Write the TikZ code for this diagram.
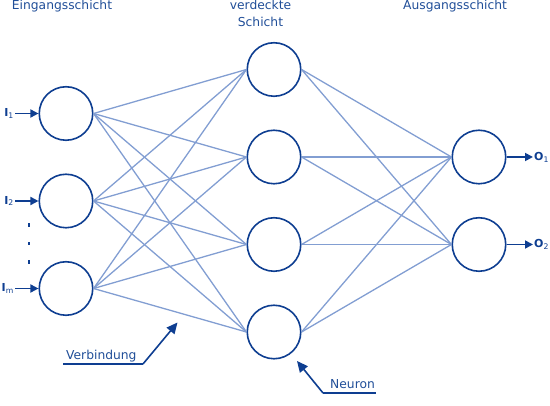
\documentclass[tikz,border=0pt]{standalone}
\usepackage{fontspec}
\setmainfont{DejaVu Sans}
\usetikzlibrary{arrows.meta}
\definecolor{dblue}{RGB}{14,62,145}
\definecolor{lblue}{RGB}{130,158,210}
\definecolor{tblue}{RGB}{32,78,152}
\begin{document}
\begin{tikzpicture}[x=1pt,y=-1pt,
  neuron/.style={circle,draw=dblue,line width=1.6pt,minimum size=53.5pt,inner sep=0pt,fill=white},
  conn/.style={draw=lblue,line width=1.3pt},
  ioarrow/.style={draw=dblue,line width=1.7pt,-{Triangle[length=8pt,width=8pt]}},
  notearrow/.style={draw=dblue,line width=1.6pt,-{Triangle[length=11pt,width=10pt]}},
  underline/.style={draw=dblue,line width=1.3pt},
  title/.style={text=tblue,font=\fontsize{12.3}{17}\selectfont,inner sep=0pt},
  iolabel/.style={text=dblue,font=\fontsize{11}{12}\selectfont\bfseries,inner sep=1pt}]
\useasboundingbox (0,0) rectangle (550,406);

% titles
\node[title,anchor=base] (t1) at (62,10) {Eingangsschicht};
\node[title,anchor=base] (t2a) at (260.5,10) {verdeckte};
\node[title,anchor=base] (t2b) at (260.5,27) {Schicht};
\node[title,anchor=base] (t3) at (455,10) {Ausgangsschicht};

% neurons
\node[neuron] (i1) at (66,113.5) {};
\node[neuron] (i2) at (66,201) {};
\node[neuron] (im) at (66,288.5) {};
\node[neuron] (h1) at (274,69.5) {};
\node[neuron] (h2) at (274,157) {};
\node[neuron] (h3) at (274,244.5) {};
\node[neuron] (h4) at (274,332) {};
\node[neuron] (o1) at (479,157) {};
\node[neuron] (o2) at (479,244.5) {};

% connections
\foreach \a in {i1,i2,im}
  \foreach \b in {h1,h2,h3,h4}
    \draw[conn] (\a.east) -- (\b.west);
\foreach \a in {h1,h2,h3,h4}
  \foreach \b in {o1,o2}
    \draw[conn] (\a.east) -- (\b.west);

% input labels and arrows
\node[iolabel,anchor=east] (l1) at (15,113.5) {I\textsubscript{\normalfont 1}};
\node[iolabel,anchor=east] (l2) at (15,201) {I\textsubscript{\normalfont 2}};
\node[iolabel,anchor=east] (lm) at (15,288.5) {I\textsubscript{\normalfont m}};
\draw[ioarrow] (l1.east) -- (i1.west);
\draw[ioarrow] (l2.east) -- (i2.west);
\draw[ioarrow] (lm.east) -- (im.west);

% dots
\foreach \y in {225,243.5,262}
  \fill[dblue] (28.2,\y-1.8) rectangle (29.8,\y+1.8);

% output labels and arrows
\node[iolabel,anchor=west] (p1) at (533,157) {O\textsubscript{\normalfont 1}};
\node[iolabel,anchor=west] (p2) at (533,244.5) {O\textsubscript{\normalfont 2}};
\draw[ioarrow] (o1.east) -- (p1.west);
\draw[ioarrow] (o2.east) -- (p2.west);

% annotations
\node[title,anchor=base west] (vb) at (66,360) {Verbindung};
\coordinate (vbl) at (63,364);
\coordinate (vbr) at (143,364);
\coordinate (vbt) at (177.5,322.5);
\draw[underline] (vbl) -- (vbr);
\draw[notearrow] (vbr) -- (vbt);

\node[title,anchor=base west] (nr) at (330,389) {Neuron};
\coordinate (nrl) at (323,393);
\coordinate (nrr) at (376,393);
\coordinate (nrt) at (297,361);
\draw[underline] (nrl) -- (nrr);
\draw[notearrow] (nrl) -- (nrt);
\end{tikzpicture}
\end{document}
